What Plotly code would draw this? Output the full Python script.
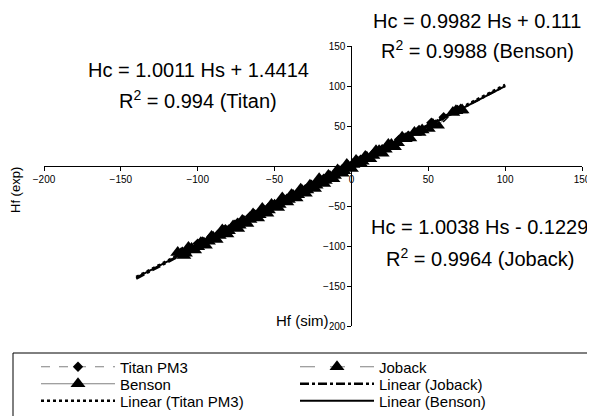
import plotly.graph_objects as go

# ---- data ----
titan_x = [-110, -105, -100, -96, -91, -87, -82, -78, -74, -70, -66, -62, -58, -54, -50, -46, -42, -38,
           -34, -30, -26, -22, -18, -14, -10, -6, -2, 2, 6, 10, 15, 20, 25, 31, 37, 44, 52, 60, 69]
titan_y = [-107, -104, -97, -95, -88, -86, -79, -77, -71, -69, -63, -61, -55, -52, -48, -44, -41, -36,
           -32, -29, -24, -21, -16, -13, -8, -4, 0, 3, 8, 11, 17, 21, 26, 33, 38, 45, 54, 61, 70]

joback_x = [-113, -109, -106, -102, -98, -95, -91, -88, -84, -81, -77, -74, -71, -68, -64, -61, -58, -55,
            -52, -48, -45, -42, -39, -36, -33, -30, -27, -24, -21, -18, -15, -12, -9, -6, -3, 0, 3, 6,
            9, 12, 16, 20, 24, 28, 33, 38, 44, 50, 56, 66, 72]
joback_y = [-108, -112, -102, -105, -96, -99, -88, -92, -80, -85, -75, -78, -68, -72, -60, -65, -53, -59,
            -48, -52, -40, -45, -36, -40, -29, -34, -24, -28, -16, -22, -12, -16, -5, -9, 2, -3, 7, 3,
            12, 9, 19, 16, 27, 24, 36, 35, 42, 47, 51, 67, 70]

benson_x = [-111, -108, -104, -100, -97, -93, -90, -86, -83, -80, -76, -73, -70, -66, -63, -60, -57, -54,
            -50, -47, -44, -41, -38, -35, -32, -29, -26, -23, -20, -17, -14, -11, -8, -5, -2, 1, 4, 7,
            10, 14, 18, 22, 26, 30, 35, 41, 46, 53, 68, 71]
benson_y = [-110, -109, -103, -101, -96, -94, -89, -87, -82, -81, -75, -74, -69, -67, -62, -61, -56, -55,
            -49, -48, -43, -42, -37, -36, -31, -30, -25, -24, -19, -18, -13, -12, -7, -6, -1, 2, 5, 6,
            11, 13, 19, 21, 27, 29, 34, 42, 45, 52, 69, 70]

# trendline end points (from the fitted equations shown on the chart)
trend_x = [-140, 100]
trend_titan_y = [-138.71, 101.55]
trend_joback_y = [-140.65, 100.26]
trend_benson_y = [-139.64, 99.93]

x_ticks = [-200, -150, -100, -50, 0, 50, 100, 150]
y_ticks = [-200, -150, -100, -50, 50, 100, 150]

eq_titan = ["Hc = 1.0011 Hs + 1.4414", "R<sup>2</sup> = 0.994 (Titan)"]
eq_benson = ["Hc = 0.9982 Hs + 0.111", "R<sup>2</sup> = 0.9988 (Benson)"]
eq_joback = ["Hc = 1.0038 Hs - 0.1229", "R<sup>2</sup> = 0.9964 (Joback)"]

FONT = "Arial, Liberation Sans, sans-serif"
OFF = 8                      # page body margin of the html output
W, H = 595 - OFF, 416 - OFF
ML, MR, MT, MB = 44 - OFF, 13, 46 - OFF, 90
PW, PH = W - ML - MR, H - MT - MB


def px(xp):
    return (xp - OFF - ML) / PW


def py(yp):
    return (H - MB - (yp - OFF)) / PH


fig = go.Figure()

fig.add_trace(go.Scatter(x=titan_x, y=titan_y, mode="lines+markers", name="Titan PM3", legend="legend",
                         line=dict(color="#808080", width=1, dash="dash"),
                         marker=dict(symbol="diamond", size=8, color="black")))
fig.add_trace(go.Scatter(x=joback_x, y=joback_y, mode="lines+markers", name="Joback", legend="legend",
                         line=dict(color="#808080", width=1, dash="longdash"),
                         marker=dict(symbol="triangle-up", size=13, color="black")))
fig.add_trace(go.Scatter(x=benson_x, y=benson_y, mode="lines+markers", name="Benson", legend="legend2",
                         line=dict(color="#808080", width=1),
                         marker=dict(symbol="triangle-up", size=13, color="black")))
fig.add_trace(go.Scatter(x=trend_x, y=trend_joback_y, mode="lines", name="Linear (Joback)", legend="legend2",
                         line=dict(color="black", width=2.5, dash="dashdot")))
fig.add_trace(go.Scatter(x=trend_x, y=trend_titan_y, mode="lines", name="Linear (Titan PM3)", legend="legend3",
                         line=dict(color="black", width=2.5, dash="dot")))
fig.add_trace(go.Scatter(x=trend_x, y=trend_benson_y, mode="lines", name="Linear (Benson)", legend="legend3",
                         line=dict(color="black", width=2)))

zero_frac = 200 / 350


def leg(row_y):
    return dict(orientation="h", x=px(36), y=py(row_y), xanchor="left", yanchor="middle",
                borderwidth=0, bgcolor="rgba(0,0,0,0)", entrywidth=170, itemwidth=74,
                font=dict(size=15, family=FONT, color="black"), traceorder="normal")


fig.update_layout(
    width=W, height=H,
    margin=dict(l=ML, r=MR, t=MT, b=MB, autoexpand=False),
    paper_bgcolor="white", plot_bgcolor="white",
    font=dict(family=FONT, color="black"),
    showlegend=True,
    xaxis=dict(range=[-200, 150], tickvals=x_ticks, anchor="free", position=zero_frac,
               showline=True, linecolor="black", linewidth=1, ticks="outside", ticklen=4,
               tickcolor="black", showgrid=False, zeroline=False, tickfont=dict(size=10)),
    yaxis=dict(range=[-200, 150], tickvals=y_ticks, anchor="free", position=zero_frac,
               showline=True, linecolor="black", linewidth=1, ticks="outside", ticklen=4,
               tickcolor="black", showgrid=False, zeroline=False, tickfont=dict(size=10)),
    legend=leg(367),
    legend2=leg(384),
    legend3=leg(401),
    shapes=[dict(type="rect", xref="paper", yref="paper", x0=px(13), x1=px(602), y0=py(353), y1=py(425),
                 line=dict(color="black", width=1), fillcolor="rgba(0,0,0,0)", layer="below")],
)

ann = []
for (lines, cx, y1, y2) in [(eq_titan, 198, 70, 99), (eq_benson, 477, 21, 50), (eq_joback, 480, 227, 257)]:
    ann.append(dict(text=lines[0], x=px(cx), y=py(y1), xref="paper", yref="paper", xanchor="center",
                    yanchor="middle", showarrow=False, font=dict(size=20)))
    ann.append(dict(text=lines[1], x=px(cx), y=py(y2), xref="paper", yref="paper", xanchor="center",
                    yanchor="middle", showarrow=False, font=dict(size=20)))
ann.append(dict(text="Hf (exp)", x=px(15), y=py(190), xref="paper", yref="paper", textangle=-90,
                xanchor="center", yanchor="middle", showarrow=False, font=dict(size=13)))
ann.append(dict(text="Hf (sim)", x=px(302), y=py(320), xref="paper", yref="paper",
                xanchor="center", yanchor="middle", showarrow=False, font=dict(size=15),
                bgcolor="white", borderpad=0))
fig.update_layout(annotations=ann)

fig.write_html("out.html")
